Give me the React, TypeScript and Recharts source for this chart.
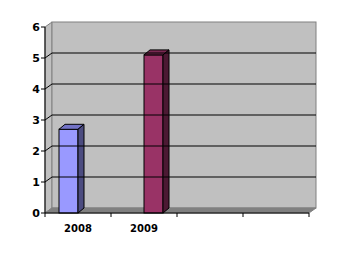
import React from 'react';
import { BarChart, Bar, XAxis, YAxis, ReferenceArea, ReferenceLine } from 'recharts';

const categories = ['2008', '2009', '', ''];
const series1 = [2.7, null, null, null];
const series2 = [null, 5.1, null, null];
const yTicks = [0, 1, 2, 3, 4, 5, 6];
const gridValues = [1, 2, 3, 4, 5];

const data = categories.map((c, i) => ({ name: c, s1: series1[i], s2: series2[i] }));

const CHART_W = 348;
const CHART_H = 256;
const MARGIN = { top: 27, right: 39, left: 0, bottom: 13 };
const Y_AXIS_W = 45;
const X_AXIS_H = 30;
const PLOT_W = CHART_W - MARGIN.left - MARGIN.right - Y_AXIS_W;

const WALL_DX = 7;
const WALL_DY = -5;
const BAR_DX = 6;
const BAR_DY = -5;

const FONT = '"DejaVu Sans", Verdana, sans-serif';

const Walls = (props: any) => {
  const { x, y, width, height } = props;
  if (x == null) return null;
  const b = y + height;
  return (
    <g>
      <polygon
        points={`${x},${b} ${x},${y} ${x + WALL_DX},${y + WALL_DY} ${x + WALL_DX},${b + WALL_DY}`}
        fill="#C0C0C0"
        stroke="#808080"
      />
      <rect x={x + WALL_DX} y={y + WALL_DY} width={width} height={height} fill="#C0C0C0" stroke="#808080" />
      <polygon
        points={`${x},${b} ${x + WALL_DX},${b + WALL_DY} ${x + width + WALL_DX},${b + WALL_DY} ${x + width},${b}`}
        fill="#808080"
        stroke="#808080"
      />
    </g>
  );
};

const GridLine = (props: any) => {
  const { x1, x2, y1 } = props;
  if (x1 == null || y1 == null) return <g />;
  const l = Math.min(x1, x2);
  const r = Math.max(x1, x2);
  return (
    <path
      d={`M${l},${y1} L${l + WALL_DX},${y1 + WALL_DY} L${r + WALL_DX},${y1 + WALL_DY}`}
      stroke="#000"
      fill="none"
      strokeWidth={1}
    />
  );
};

const make3D = (front: string, top: string, side: string) => (props: any) => {
  const { x, y, width, height } = props;
  if (x == null || !height || height <= 0) return <g />;
  const b = y + height;
  const r = x + width;
  return (
    <g>
      <rect x={x} y={y} width={width} height={height} fill={front} stroke="#000" />
      <polygon
        points={`${x},${y} ${x + BAR_DX},${y + BAR_DY} ${r + BAR_DX},${y + BAR_DY} ${r},${y}`}
        fill={top}
        stroke="#000"
      />
      <polygon
        points={`${r},${y} ${r + BAR_DX},${y + BAR_DY} ${r + BAR_DX},${b + BAR_DY} ${r},${b}`}
        fill={side}
        stroke="#000"
      />
    </g>
  );
};

const Bar1 = make3D('#9999FF', '#7373C6', '#4C4C80');
const Bar2 = make3D('#993366', '#7A2952', '#4C1933');

const XTick = (props: any) => {
  const { x, y, payload, index } = props;
  const band = PLOT_W / categories.length;
  const left = x - band / 2;
  return (
    <g>
      <line x1={left} y1={y} x2={left} y2={y + 4} stroke="#000" />
      {index === categories.length - 1 && (
        <line x1={x + band / 2} y1={y} x2={x + band / 2} y2={y + 4} stroke="#000" />
      )}
      <text
        x={x}
        y={y + 12}
        dy="0.71em"
        textAnchor="middle"
        fill="#000"
        fontFamily={FONT}
        fontWeight="bold"
        fontSize={10}
      >
        {payload.value}
      </text>
    </g>
  );
};

export default function App() {
  return (
    <div style={{ width: CHART_W, height: CHART_H }}>
      <style>{'body{margin:0;}'}</style>
      <BarChart
        width={CHART_W}
        height={CHART_H}
        data={data}
        margin={MARGIN}
        barCategoryGap={14}
        barGap={0}
      >
        <ReferenceArea y1={0} y2={6} shape={Walls} ifOverflow="visible" />
        {gridValues.map((v) => (
          <ReferenceLine key={v} y={v} shape={GridLine} ifOverflow="visible" />
        ))}
        <Bar dataKey="s1" isAnimationActive={false} shape={Bar1} />
        <Bar dataKey="s2" isAnimationActive={false} shape={Bar2} />
        <XAxis
          dataKey="name"
          height={X_AXIS_H}
          interval={0}
          tickSize={0}
          tickMargin={0}
          tickLine={false}
          axisLine={{ stroke: '#000' }}
          tick={XTick}
        />
        <YAxis
          width={Y_AXIS_W}
          domain={[0, 6]}
          ticks={yTicks}
          interval={0}
          tickSize={4}
          tickMargin={1}
          axisLine={{ stroke: '#000' }}
          tickLine={{ stroke: '#000' }}
          tick={{ fill: '#000', fontFamily: FONT, fontWeight: 'bold', fontSize: 11 }}
        />
      </BarChart>
    </div>
  );
}
